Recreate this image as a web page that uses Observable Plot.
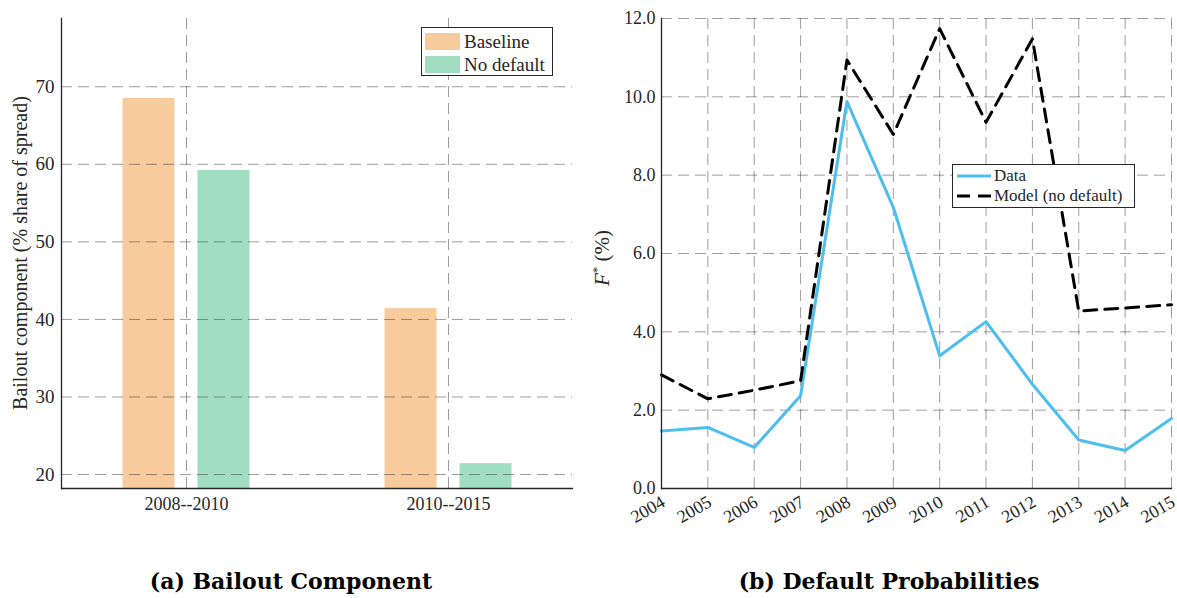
<!DOCTYPE html>
<html>
<head>
<meta charset="utf-8">
<script src="https://cdn.jsdelivr.net/npm/d3@7"></script>
<script src="https://cdn.jsdelivr.net/npm/@observablehq/plot@0.6"></script>
<style>
  html, body { margin: 0; padding: 0; background: #fff; }
  body { width: 1177px; height: 598px; position: relative; overflow: hidden;
         font-family: "Liberation Serif", serif; color: #262626; }
  #left { position: absolute; left: 0; top: 0; }
  #right { position: absolute; left: 590px; top: 0; }
  svg { overflow: visible; }
  .legend { position: absolute; background: #fff; border: 1px solid #262626; box-sizing: border-box; }
  .row { display: flex; align-items: center; white-space: nowrap; }
  .ylab { position: absolute; white-space: nowrap; transform: translate(-50%, -50%) rotate(-90deg); }
  .caption { position: absolute; transform: translateX(-50%); white-space: nowrap;
             font-family: "DejaVu Serif", serif; font-weight: bold; font-size: 22px; color: #000; }
</style>
</head>
<body>
<div id="left"></div>
<div id="right"></div>
<div class="ylab" style="left:20px; top:253px; font-size:20px;">Bailout component (% share of spread)</div>
<div class="ylab" style="left:602px; top:258px; font-size:21px;"><i>F</i><sup style="font-size:13px">*</sup> (%)</div>
<div id="legL" class="legend" style="left:421px; top:27px; width:132px; height:49px; padding-top:2px;"></div>
<div id="legR" class="legend" style="left:952px; top:164px; width:183px; height:44px; padding-top:1px;"></div>
<div class="caption" style="left:291px; top:568px;">(a) Bailout Component</div>
<div class="caption" style="left:889px; top:568px;">(b) Default Probabilities</div>
<script>
// ---- Panel (a) data ----
const groups = ["2008--2010", "2010--2015"];
const baseline = [68.5, 41.4];
const noDefault = [59.2, 21.4];
const barTicks = [20, 30, 40, 50, 60, 70];
const seriesNamesA = ["Baseline", "No default"];

// ---- Panel (b) data ----
const years = [2004, 2005, 2006, 2007, 2008, 2009, 2010, 2011, 2012, 2013, 2014, 2015];
const dataF = [1.47, 1.56, 1.05, 2.37, 9.88, 7.18, 3.39, 4.26, 2.66, 1.24, 0.97, 1.79];
const modelF = [2.90, 2.29, 2.51, 2.75, 10.94, 9.04, 11.74, 9.35, 11.48, 4.53, 4.61, 4.69];
const fTicks = [0, 2, 4, 6, 8, 10, 12];
const seriesNamesB = ["Data", "Model (no default)"];

const Y_MIN = 18.2, Y_MAX = 78.8;
const cBase = "#F8CB9D", cNo = "#A1DEC1", cData = "#4DBEEE", cModel = "#000000";
const gridStyle = {stroke: "#262626", strokeOpacity: 0.45, strokeDasharray: "11,6", strokeWidth: 1};
const axisColor = "#262626";

const baseRows = groups.map((g, i) => ({group: g, value: baseline[i]}));
const noRows = groups.map((g, i) => ({group: g, value: noDefault[i]}));

const left = Plot.plot({
  width: 590, height: 530,
  marginLeft: 61, marginRight: 18, marginTop: 18, marginBottom: 42,
  style: {fontFamily: "Liberation Serif", fontSize: "18px", color: axisColor, background: "transparent"},
  x: {domain: groups, paddingInner: 0.1, paddingOuter: 0.025, label: null},
  y: {domain: [Y_MIN, Y_MAX], label: null},
  marks: [
    Plot.barY(baseRows, {x: "group", y1: Y_MIN, y2: "value", fill: cBase, insetLeft: 92, insetRight: 92, dx: -37.5}),
    Plot.barY(noRows, {x: "group", y1: Y_MIN, y2: "value", fill: cNo, insetLeft: 92, insetRight: 92, dx: 37.5}),
    Plot.gridY(barTicks, gridStyle),
    Plot.gridX(groups, gridStyle),
    Plot.frame({anchor: "left", stroke: axisColor, strokeWidth: 1.3}),
    Plot.frame({anchor: "bottom", stroke: axisColor, strokeWidth: 1.3}),
    Plot.axisY(barTicks, {tickSize: 0, tickPadding: 7, fontSize: 19, label: null}),
    Plot.axisX(groups, {tickSize: 0, tickPadding: 9, fontSize: 18, label: null})
  ]
});
document.getElementById("left").appendChild(left);

const lineRows = years.map((y, i) => ({year: y, data: dataF[i], model: modelF[i]}));

const right = Plot.plot({
  width: 587, height: 530,
  marginLeft: 71, marginRight: 6, marginTop: 18, marginBottom: 42,
  style: {fontFamily: "Liberation Serif", fontSize: "18px", color: axisColor, background: "transparent"},
  x: {domain: [2004, 2015], label: null},
  y: {domain: [0, 12], label: null},
  marks: [
    Plot.gridX(years, gridStyle),
    Plot.gridY(fTicks, gridStyle),
    Plot.lineY(lineRows, {x: "year", y: "data", stroke: cData, strokeWidth: 3}),
    Plot.lineY(lineRows, {x: "year", y: "model", stroke: cModel, strokeWidth: 3, strokeDasharray: "13,8"}),
    Plot.frame({anchor: "left", stroke: axisColor, strokeWidth: 1.3}),
    Plot.frame({anchor: "bottom", stroke: axisColor, strokeWidth: 1.3}),
    Plot.axisY(fTicks, {tickSize: 0, tickPadding: 6, fontSize: 18, tickFormat: d3.format(".1f"), label: null}),
    Plot.axisX(years, {tickSize: 0, tickPadding: 12, dx: 2, fontSize: 18, tickRotate: -30, tickFormat: d => String(d), label: null})
  ]
});
document.getElementById("right").appendChild(right);

// ---- Legends ----
const legL = document.getElementById("legL");
[cBase, cNo].forEach((c, i) => {
  const row = document.createElement("div");
  row.className = "row";
  row.style.height = "23px";
  row.style.fontSize = "19px";
  row.innerHTML = `<span style="display:inline-block;width:35px;height:17px;background:${c};margin-left:3px;margin-right:4px"></span>${seriesNamesA[i]}`;
  legL.appendChild(row);
});
const legR = document.getElementById("legR");
[[cData, null], [cModel, "13,8"]].forEach(([c, dash], i) => {
  const row = document.createElement("div");
  row.className = "row";
  row.style.height = "20px";
  row.style.fontSize = "17px";
  row.innerHTML = `<svg width="34" height="6" style="margin-left:4px;margin-right:3px"><line x1="0" x2="34" y1="3" y2="3" stroke="${c}" stroke-width="3" ${dash ? `stroke-dasharray="${dash}"` : ""}/></svg>${seriesNamesB[i]}`;
  legR.appendChild(row);
});
</script>
</body>
</html>
